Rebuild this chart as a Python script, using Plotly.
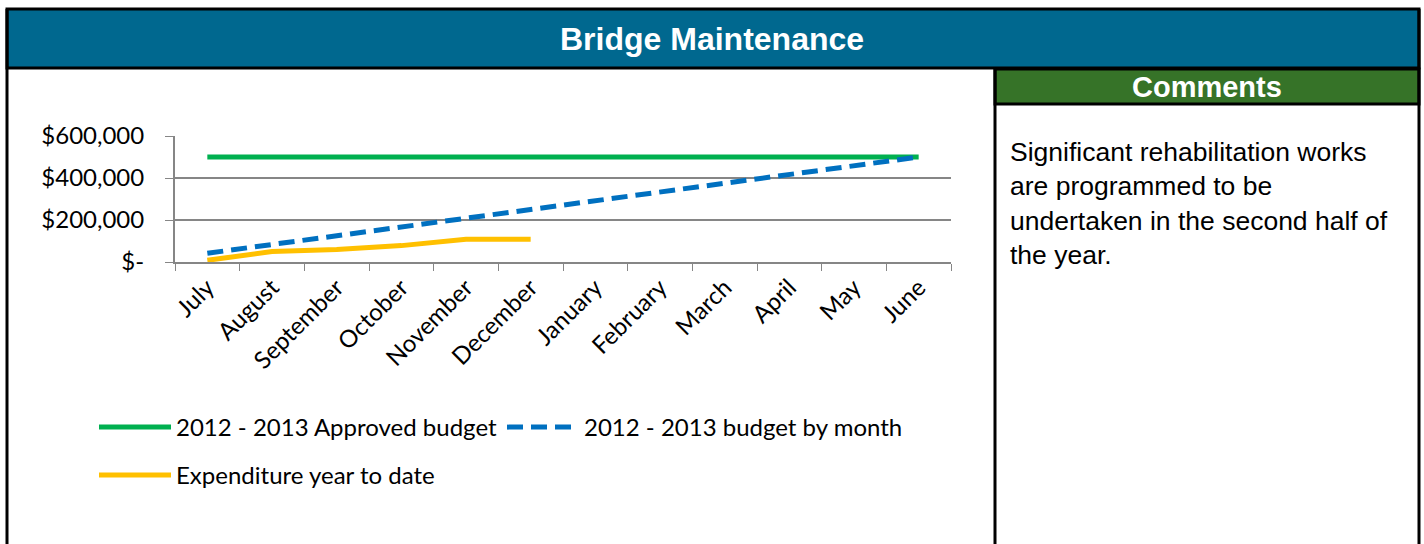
import plotly.graph_objects as go

W, H = 1424, 544

months = ["July", "August", "September", "October", "November", "December",
          "January", "February", "March", "April", "May", "June"]
approved_budget = [500000] * 12
budget_by_month = [41667, 83333, 125000, 166667, 208333, 250000,
                   291667, 333333, 375000, 416667, 458333, 500000]
expenditure_ytd = [8000, 50000, 60000, 78000, 108000, 108000]
y_ticks = [0, 200000, 400000, 600000]
y_labels = ["$-", "$200,000", "$400,000", "$600,000"]

comment = ("Significant rehabilitation works<br>are programmed to be<br>"
           "undertaken in the second half of<br>the year.")

CHART_FONT = "Lato"
BOX_FONT = "Liberation Sans, Arial"


def px_x(x):
    return x / W


def px_y(y):
    return 1 - y / H


fig = go.Figure()
fig.add_trace(go.Scatter(x=months, y=approved_budget, mode="lines",
                         name="2012 - 2013 Approved budget",
                         line=dict(color="#00B050", width=5), legend="legend"))
fig.add_trace(go.Scatter(x=months, y=budget_by_month, mode="lines",
                         name="2012 - 2013 budget by month",
                         line=dict(color="#0070C0", width=5, dash="16px,8px"),
                         legend="legend"))
fig.add_trace(go.Scatter(x=months[:len(expenditure_ytd)], y=expenditure_ytd,
                         mode="lines", name="Expenditure year to date",
                         line=dict(color="#FFC000", width=5), legend="legend2"))

# panels and borders
shapes = [
    dict(type="rect", x0=px_x(7), x1=px_x(1419), y0=px_y(9), y1=px_y(68),
         fillcolor="#00688F", line=dict(color="black", width=3)),
    dict(type="rect", x0=px_x(995), x1=px_x(1419), y0=px_y(69), y1=px_y(104),
         fillcolor="#367328", line=dict(color="black", width=3)),
    dict(type="line", x0=px_x(7), x1=px_x(7), y0=px_y(9), y1=px_y(H + 5),
         line=dict(color="black", width=3)),
    dict(type="line", x0=px_x(1419), x1=px_x(1419), y0=px_y(9), y1=px_y(H + 5),
         line=dict(color="black", width=3)),
    dict(type="line", x0=px_x(995), x1=px_x(995), y0=px_y(69), y1=px_y(H + 5),
         line=dict(color="black", width=3)),
]
for s in shapes:
    s.update(xref="paper", yref="paper", layer="below")

annotations = [
    dict(text="<b>Bridge Maintenance</b>", x=px_x(712), y=px_y(39),
         font=dict(family=BOX_FONT, size=32, color="white")),
    dict(text="<b>Comments</b>", x=px_x(1207), y=px_y(87),
         font=dict(family=BOX_FONT, size=29, color="white")),
    dict(text=comment, x=px_x(1008), y=px_y(135), xanchor="left", yanchor="top",
         align="left", font=dict(family=BOX_FONT, size=26.5, color="black")),
]
for a in annotations:
    a.update(xref="paper", yref="paper", showarrow=False)
    a.setdefault("xanchor", "center")
    a.setdefault("yanchor", "middle")

fig.update_layout(
    width=W, height=H,
    margin=dict(l=0, r=0, t=0, b=0, autoexpand=False),
    paper_bgcolor="white", plot_bgcolor="white",
    shapes=shapes, annotations=annotations,
    font=dict(family=CHART_FONT, size=24, color="black"),
    legend=dict(orientation="h", x=px_x(94), y=px_y(405), xanchor="left",
                yanchor="top", font=dict(family=CHART_FONT, size=24),
                itemwidth=72, entrywidth=321, bgcolor="rgba(0,0,0,0)"),
    legend2=dict(orientation="h", x=px_x(94), y=px_y(453), xanchor="left",
                 yanchor="top", font=dict(family=CHART_FONT, size=24),
                 itemwidth=72, bgcolor="rgba(0,0,0,0)"),
    xaxis=dict(domain=[px_x(175), px_x(951)], range=[-0.5, len(months) - 0.5],
               tickangle=-45, automargin=False,
               tickson="boundaries", ticks="outside", ticklen=7,
               tickcolor="#868686", showline=True, linecolor="#868686",
               linewidth=2, showgrid=False, zeroline=False,
               tickfont=dict(family=CHART_FONT, size=24)),
    yaxis=dict(domain=[px_y(262), px_y(136)], range=[0, 600000],
               automargin=False, ticklabelstandoff=16,
               tickvals=y_ticks, ticktext=y_labels, ticks="outside",
               ticklen=8, tickcolor="#868686", showline=True,
               linecolor="#868686", linewidth=2, gridcolor="#868686",
               gridwidth=2, zeroline=False,
               tickfont=dict(family=CHART_FONT, size=24)),
)

# the page body has a default margin; drop it so the figure sits at 0,0
fig.write_html("out.html", config={"displayModeBar": False},
               post_script="document.body.style.margin = '0';")
